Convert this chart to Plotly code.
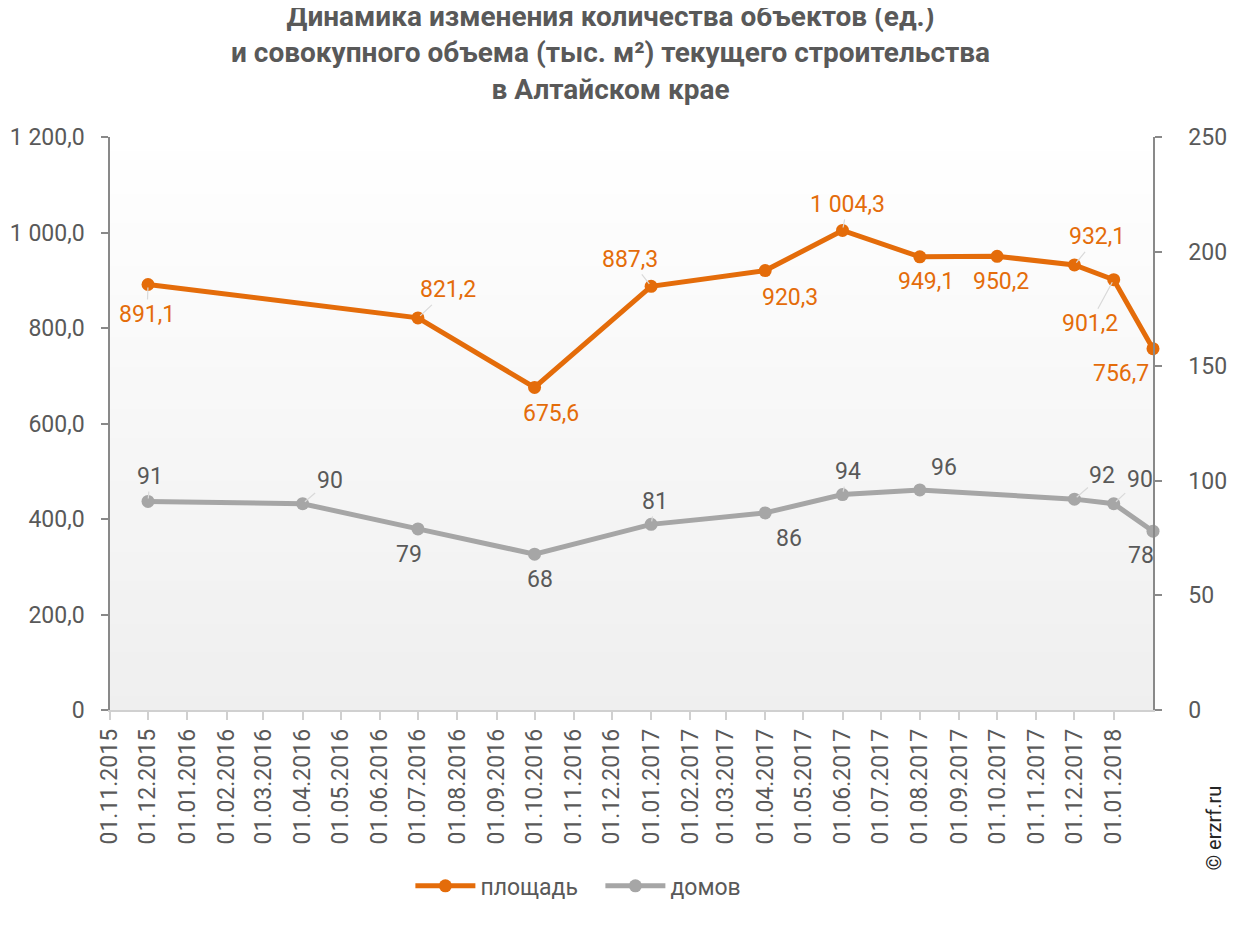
import plotly.graph_objects as go
import pandas as pd

# ---------------- data ----------------
area_dates = ["2015-12-01", "2016-07-01", "2016-10-01", "2017-01-01", "2017-04-01",
              "2017-06-01", "2017-08-01", "2017-10-01", "2017-12-01", "2018-01-01", "2018-02-01"]
area_values = [891.1, 821.2, 675.6, 887.3, 920.3, 1004.3, 949.1, 950.2, 932.1, 901.2, 756.7]

houses_dates = ["2015-12-01", "2016-04-01", "2016-07-01", "2016-10-01", "2017-01-01",
                "2017-04-01", "2017-06-01", "2017-08-01", "2017-12-01", "2018-01-01", "2018-02-01"]
houses_values = [91, 90, 79, 68, 81, 86, 94, 96, 92, 90, 78]

left_ticks = [0, 200, 400, 600, 800, 1000, 1200]
right_ticks = [0, 50, 100, 150, 200, 250]

title_lines = ["Динамика изменения количества объектов (ед.)",
               "и совокупного объема (тыс. м²) текущего строительства",
               "в Алтайском крае"]
series_names = ["площадь", "домов"]

# ---------------- styles ----------------
ORANGE = "#E46C0A"
GREY = "#A6A6A6"
TXT = "#595959"
FONT = "Roboto"

# label offsets (dx, dy in px, dy positive = down) and whether a leader line is drawn
area_label_pos = [(-1, 30, True), (30, -28, True), (16, 26, False), (-21, -27, True),
                  (25, 27, False), (5, -26, True), (6, 25, False), (4, 25, False),
                  (23, -28, True), (-24, 44, True), (-32, 25, False)]
houses_label_pos = [(2, -25, True), (27, -23, True), (-9, 26, False), (5, 25, False),
                    (4, -23, True), (24, 26, False), (5, -23, True), (24, -22, False),
                    (28, -24, True), (26, -24, True), (-12, 24, False)]


def fmt_num(v, decimals=1):
    s = f"{v:,.{decimals}f}"
    return s.replace(",", " ").replace(".", ",")


fig = go.Figure()

fig.add_trace(go.Scatter(
    x=area_dates, y=area_values, name=series_names[0], mode="lines+markers",
    line=dict(color=ORANGE, width=5), marker=dict(color=ORANGE, size=13),
    yaxis="y", hoverinfo="skip", cliponaxis=False))
fig.add_trace(go.Scatter(
    x=houses_dates, y=houses_values, name=series_names[1], mode="lines+markers",
    line=dict(color=GREY, width=5), marker=dict(color=GREY, size=13),
    yaxis="y2", hoverinfo="skip", cliponaxis=False))

annotations = []
for d, v, (dx, dy, arrow) in zip(area_dates, area_values, area_label_pos):
    a = dict(x=d, y=v, xref="x", yref="y", text=fmt_num(v, 1),
             font=dict(family=FONT, size=23, color=ORANGE))
    if arrow:
        a.update(showarrow=True, ax=dx, ay=dy, arrowhead=0, arrowwidth=1.2,
                 arrowcolor="#D9D9D9", standoff=3)
    else:
        a.update(showarrow=False, xshift=dx, yshift=-dy)
    annotations.append(a)

for d, v, (dx, dy, arrow) in zip(houses_dates, houses_values, houses_label_pos):
    a = dict(x=d, y=v, xref="x", yref="y2", text=str(v),
             font=dict(family=FONT, size=23, color=TXT))
    if arrow:
        a.update(showarrow=True, ax=dx, ay=dy, arrowhead=0, arrowwidth=1.2,
                 arrowcolor="#D9D9D9", standoff=3)
    else:
        a.update(showarrow=False, xshift=dx, yshift=-dy)
    annotations.append(a)

# title (as annotation, three centred lines)
annotations.append(dict(
    text="<br>".join(f"<b>{t}</b>" for t in title_lines), x=0.4803, y=1.1466,
    xref="paper", yref="paper", xanchor="center", yanchor="middle", align="center",
    showarrow=False, font=dict(family=FONT, size=28, color=TXT)))

annotations.append(dict(
    text="© erzrf.ru", x=1.071, y=-0.2845, xref="paper", yref="paper",
    showarrow=False, textangle=-90, font=dict(family=FONT, size=20, color="#262626")))

# gradient background of plot area (white at top -> light grey at bottom)
shapes = []
n_bands = 80
for i in range(n_bands):
    f0 = i / n_bands
    f1 = (i + 1) / n_bands
    t = 1 - (f0 + f1) / 2  # 0 at top, 1 at bottom
    c = int(round(255 - t * (255 - 239)))
    shapes.append(dict(type="rect", xref="x domain", yref="y domain",
                       x0=0, x1=1, y0=f0, y1=f1 + 0.002, layer="below",
                       line=dict(width=0), fillcolor=f"rgb({c},{c},{c})"))

tickvals_x = pd.date_range("2015-11-01", "2018-01-01", freq="MS")

fig.update_layout(
    width=1235, height=922,
    margin=dict(l=102, r=90, t=129, b=220, autoexpand=False),
    paper_bgcolor="white", plot_bgcolor="rgba(0,0,0,0)",
    font=dict(family=FONT, color=TXT),
    xaxis=dict(type="date", range=["2015-11-01", "2018-02-01"],
               tickvals=tickvals_x, tickformat="%d.%m.%Y", tickangle=-90,
               showgrid=False, zeroline=False, showline=True, linecolor="#D0D0D0",
               linewidth=1.5, ticks="outside", ticklen=8, tickcolor="#D0D0D0",
               tickwidth=1.5, tickfont=dict(family=FONT, size=23, color=TXT),
               ticklabelstandoff=0, automargin=False),
    yaxis=dict(range=[0, 1200], tickvals=left_ticks,
               ticktext=["0" if t == 0 else fmt_num(t, 1) for t in left_ticks],
               showgrid=False, zeroline=False, showline=True, linecolor="#898989",
               linewidth=1.5, ticks="outside", ticklen=7, tickcolor="#898989",
               tickwidth=1.5, tickfont=dict(family=FONT, size=23, color=TXT),
               ticklabelstandoff=12, automargin=False),
    yaxis2=dict(range=[0, 250], tickvals=right_ticks, overlaying="y", side="right",
                showgrid=False, zeroline=False, showline=True, linecolor="#898989",
                linewidth=1.5, ticks="outside", ticklen=7, tickcolor="#898989",
                tickwidth=1.5, tickfont=dict(family=FONT, size=23, color=TXT),
                ticklabelstandoff=22, automargin=False),
    legend=dict(orientation="h", x=0.288, xanchor="left", y=-0.307, yanchor="middle",
                font=dict(family=FONT, size=23, color=TXT), bgcolor="rgba(0,0,0,0)",
                itemwidth=60, entrywidth=115, entrywidthmode="pixels"),
    showlegend=True,
    annotations=annotations,
    shapes=shapes,
)

fig.write_html("out.html")
